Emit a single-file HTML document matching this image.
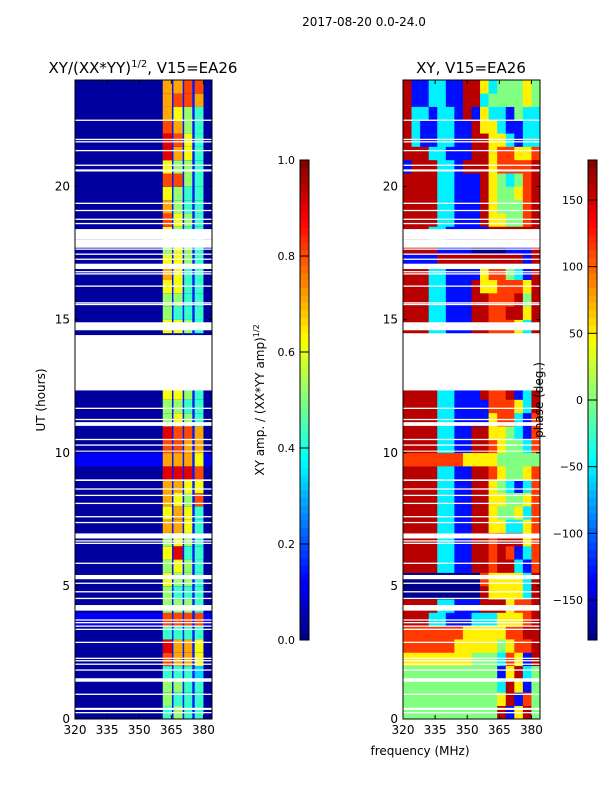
<!DOCTYPE html>
<html><head><meta charset="utf-8"><style>
html,body{margin:0;padding:0;background:#fff;}
svg{display:block;font-family:"DejaVu Sans","Liberation Sans",sans-serif;}
</style></head><body>
<svg id="fig" width="600" height="800" viewBox="0 0 600 800">
<text x="364" y="26" font-size="12" text-anchor="middle">2017-08-20 0.0-24.0</text>
<text x="143" y="73" font-size="15" text-anchor="middle">XY/(XX*YY)<tspan dy="-6" font-size="10">1/2</tspan><tspan dy="6">, V15=EA26</tspan></text>
<text x="471" y="73" font-size="15" text-anchor="middle">XY, V15=EA26</text>
<text transform="translate(45,400) rotate(-90)" font-size="12" text-anchor="middle">UT (hours)</text>
<text x="420" y="755" font-size="12" text-anchor="middle">frequency (MHz)</text>
<text transform="translate(264,400) rotate(-90)" font-size="12" text-anchor="middle">XY amp. / (XX*YY amp)<tspan dy="-5" font-size="8">1/2</tspan></text>
<g id="left"></g>
<g id="right"></g>
<text transform="translate(543,400) rotate(-90)" font-size="12" text-anchor="middle">phase (deg.)</text>
<g id="cb1"></g>
<g id="cb2"></g>
</svg>
<script>
// ---- data ----
const xTicks = [320, 335, 350, 365, 380];
const yTicks = [0, 5, 10, 15, 20];
const ampTicks = ["0.0","0.2","0.4","0.6","0.8","1.0"];
const phaseTicks = [-150, -100, -50, 0, 50, 100, 150];
const bands = [[361,365.3],[366,370.3],[371,374.8],[375.9,380]];
// per half-hour row (0h upward), amplitude of 4 bands (digit/9)
const ampRows = ["4544","5444","5544","4443","8776","9776","4444","8888","5554","5444","6554","5654","6944","5654","7764","6764","7658","7766","9998","7776","8877","9887","5654","5544","6654","0000","0000","0000","0000","6654","5444","5544","6644","7644","6654","5654","6544","8654","7544","6544","8854","6554","9764","9864","8754","7654","7887","7788"];
const bgRows  = "111111141111111111141111111111111111111111111111";
// phase per half-hour row, 16 bins of 4 MHz from 320
const phaseRows = ["GGGGGGGGGGGRBYRG","GGGGGGGGGGGYRBOG","GGGGGGGGGGGCRYBG","GGGGGGGGGGGBYRCG","YYYYYYYYGGGCOYBR","OOOOOOYYYYYGYOOR","OOOOOOOYYYYYOORR","RRRCCBBBCCCYYYOR","RRRRCCBBBRRRYOOR","NNNNNNNNNRYYYYCR","NNNNNNNNNOYYYYCR","RRRRCCBBRRORRCBO","RRRRCCBBRROROBCO","RRRRCCBBRRORRRYO","RRRRCCBBRRYYCCYO","RRRRCCBBRRYGGYCO","RRRRCCBBRRYYGGYO","RRRRCCBBRRYGCBCO","RRRRCCBBRROYGGYO","OOOOOOOYYYYGGGGG","RRRRCCBBRROYGGCO","RRRRCCBBRRYYGCBO","RRRRCCBBBBYOOCBO","RRRRCCBBBBOOOYCR","RRRRCCBBBROORBCR","----------------","----------------","----------------","----------------","RRRCCBBBRROOOYCR","RRRCCBBBRROORRYR","RRRCCBBBRROOORGR","RRRCCBBBRYYOOOYR","RRRCCBBBBYOOGCBR","BBBBRRRRRRRRRRBR","RRRRBBBBNNNNBBBR","RRRCCBBBBBRRRRRR","RRRRCCBBBRYYGGOR","RRRRCCBBBRYGGGOR","RRRRCCBBBRYGGYOR","RRRRCCBBBRYGCGOR","BRRRCCBRRRYOOOOR","RRRCCBBBRRYOOYYO","RCBBCCBBRRYYCBCC","RCBBCCBBRYYCBBCC","RCCBCCBRBYCCBGCC","RBBCCBBRRCGGGGYG","RBBCCBBRRYCGGGYG"];
const phaseCodes = {R:160,O:115,Y:50,G:0,C:-50,B:-130,N:-175};
// flagged (blank) time intervals, hours
const blanks = [[12.34,14.42],[14.6,14.9],[17.7,18.0],[18.0,18.4],[16.9,17.1],[11.01,11.15],[10.04,10.08],[8.94,9.0],[6.78,6.97],[5.25,5.41],[4.07,4.28],[1.40,1.53],[0.34,0.42]];
const thinBlanks = [22.49,21.77,21.68,21.35,20.8,20.59,20.62,19.37,19.1,18.77,18.61,17.65,17.46,17.27,16.8,16.72,16.26,15.63,15.57,14.64,11.67,11.25,10.5,10.29,8.64,8.4,8.1,7.6,7.38,6.69,6.6,5.85,5.1,4.78,4.53,3.72,3.62,3.49,3.37,2.88,2.28,2.19,2.06,1.84,0.93,0.24];

// ---- helpers ----
const NS="http://www.w3.org/2000/svg";
function mk(tag, attrs, parent){const e=document.createElementNS(NS,tag);for(const k in attrs)e.setAttribute(k,attrs[k]);parent.appendChild(e);return e;}
function jet(v){v=Math.max(0,Math.min(1,v));
  const r=Math.max(0,Math.min(1,Math.min(4*v-1.5,-4*v+4.5)));
  const g=Math.max(0,Math.min(1,Math.min(4*v-0.5,-4*v+3.5)));
  const b=Math.max(0,Math.min(1,Math.min(4*v+0.5,-4*v+2.5)));
  return `rgb(${Math.round(r*255)},${Math.round(g*255)},${Math.round(b*255)})`;}
const Y0=719, Y1=80, XMIN=320, XMAX=384;
const yS = t => Y0 - (t/24)*(Y0-Y1);
function xS(px0,px1){return f => px0 + (f-XMIN)/(XMAX-XMIN)*(px1-px0);}

function panel(g, px0, px1, drawCells){
  const x = xS(px0,px1);
  drawCells(x);
  blanks.forEach(b=>{const r=mk('rect',{x:px0,y:yS(b[1]),width:px1-px0,height:yS(b[0])-yS(b[1]),fill:'#fff'},g);
    
    });
  thinBlanks.forEach(t=>{const r=mk('rect',{x:px0,y:yS(t)-0.6,width:px1-px0,height:1.3,fill:'#fff'},g);
    
    });
  mk('rect',{x:px0,y:Y1,width:px1-px0,height:Y0-Y1,fill:'none',stroke:'#000','stroke-width':1},g);
  xTicks.forEach(v=>{const xx=x(v);
    mk('line',{x1:xx,x2:xx,y1:Y0,y2:Y0-4,stroke:'#000'},g);
    mk('line',{x1:xx,x2:xx,y1:Y1,y2:Y1+4,stroke:'#000'},g);
    const t=mk('text',{x:xx,y:Y0+15,'font-size':12,'text-anchor':'middle'},g);t.textContent=v;
    
    });
  yTicks.forEach(v=>{const yy=yS(v);
    mk('line',{x1:px0,x2:px0+4,y1:yy,y2:yy,stroke:'#000'},g);
    mk('line',{x1:px1,x2:px1-4,y1:yy,y2:yy,stroke:'#000'},g);
    const t=mk('text',{x:px0-5,y:yy+4,'font-size':12,'text-anchor':'end'},g);t.textContent=v;
    
    });
}

// amplitude panel
panel(document.getElementById('left'),75,212,x=>{
  const g=document.getElementById('left');
  ampRows.forEach((row,i)=>{
    const yt=yS((i+1)*0.5), yb=yS(i*0.5);
    const bg=0.03*(+bgRows[i]);
    const r=mk('rect',{x:x(XMIN),y:yt,width:x(XMAX)-x(XMIN),height:yb-yt+0.3,fill:jet(bg)},g);
    
    
    const gp=mk('rect',{x:x(bands[0][0]),y:yt,width:x(bands[3][1])-x(bands[0][0]),height:yb-yt+0.3,fill:jet(0.15)},g);
    
    
    bands.forEach((b,j)=>{
      const c=mk('rect',{x:x(b[0]),y:yt,width:x(b[1])-x(b[0]),height:yb-yt+0.3,fill:jet(+row[j]/9*0.85+0.05)},g);
      
      
    });
  });
});

// phase panel
panel(document.getElementById('right'),403,540,x=>{
  const g=document.getElementById('right');
  phaseRows.forEach((row,i)=>{
    const yt=yS((i+1)*0.5), yb=yS(i*0.5);
    [...row].forEach((ch,j)=>{
      if(!(ch in phaseCodes))return;
      const f0=XMIN+j*4;
      const c=mk('rect',{x:x(f0),y:yt,width:x(f0+4)-x(f0)+0.3,height:yb-yt+0.3,fill:jet((phaseCodes[ch]+180)/360)},g);
      
      
    });
  });
});

// colorbars
function colorbar(id, x0, labels, vals, vmin, vmax){
  const g=document.getElementById(id);
  const top=160, bot=640, w=9, n=64;
  for(let i=0;i<n;i++){
    const y=bot-(i+1)*(bot-top)/n;
    mk('rect',{x:x0,y:y,width:w,height:(bot-top)/n+0.5,fill:jet((i+0.5)/n)},g);
  }
  mk('rect',{x:x0,y:top,width:w,height:bot-top,fill:'none',stroke:'#000','stroke-width':1},g);
  vals.forEach((v,k)=>{const y=bot-(v-vmin)/(vmax-vmin)*(bot-top);
    mk('line',{x1:x0,x2:x0+w,y1:y,y2:y,stroke:'#000'},g);
    const t=mk('text',{x:x0-5,y:y+4,'font-size':11,'text-anchor':'end'},g);t.textContent=labels[k];
    
    });
}
colorbar('cb1',300,ampTicks,ampTicks.map(Number),0,1);
colorbar('cb2',588,phaseTicks.map(v=>v<0?'\u2212'+(-v):String(v)),phaseTicks,-180,180);
</script>
</body></html>
